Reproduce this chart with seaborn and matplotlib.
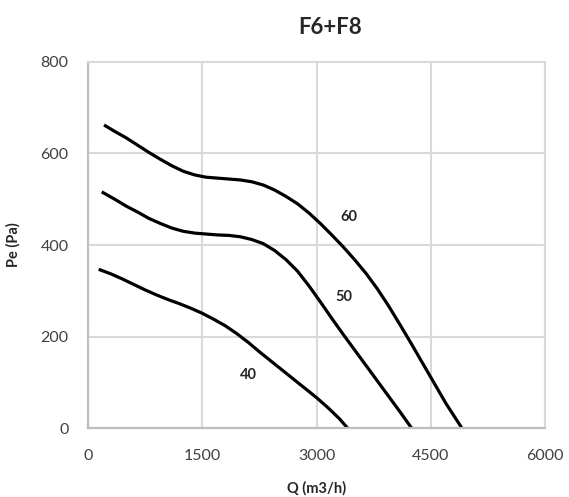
import matplotlib
matplotlib.use("Agg")
import matplotlib.pyplot as plt
import seaborn as sns
import pandas as pd

# fan curves (Q in m3/h, Pe in Pa)
q_60 = [210, 350, 500, 650, 800, 950, 1100, 1250, 1400, 1550, 1700, 1850, 2000, 2150, 2300, 2450,
        2600, 2750, 2900, 3050, 3200, 3350, 3500, 3650, 3800, 3950, 4100, 4250, 4400, 4550, 4700, 4910]
pe_60 = [662, 648, 634, 618, 602, 587, 573, 561, 553, 548, 546, 544, 542, 538, 531, 520,
         506, 490, 470, 447, 422, 396, 368, 338, 304, 266, 225, 183, 140, 97, 54, 0]

q_50 = [180, 350, 500, 650, 800, 950, 1100, 1250, 1400, 1550, 1700, 1850, 2000, 2150,
        2300, 2450, 2600, 2750, 2900, 3050, 3200, 3350, 3500, 3650, 3800, 3950, 4100, 4250]
pe_50 = [516, 500, 485, 472, 458, 447, 437, 430, 426, 424, 422, 421, 418, 412,
         403, 388, 368, 343, 311, 276, 240, 205, 171, 137, 103, 69, 35, 0]

q_40 = [140, 300, 450, 600, 750, 900, 1050, 1200, 1350, 1500, 1650, 1800, 1950, 2100,
        2250, 2400, 2550, 2700, 2850, 3000, 3150, 3300, 3410]
pe_40 = [347, 337, 326, 314, 302, 291, 281, 272, 262, 251, 238, 224, 207, 188,
         167, 147, 127, 107, 87, 67, 45, 21, 0]

curve_names = ["60", "50", "40"]
label_q = [3431, 3353, 2100]
label_pe = [462, 287, 116]

x_ticks = [0, 1500, 3000, 4500, 6000]
y_ticks = [0, 200, 400, 600, 800]

frames = []
for name, q, pe in zip(curve_names, [q_60, q_50, q_40], [pe_60, pe_50, pe_40]):
    frames.append(pd.DataFrame({"Q": q, "Pe": pe, "curve": name}))
df = pd.concat(frames, ignore_index=True)

sns.set_theme(style="white")
plt.rcParams["font.family"] = ["Lato", "DejaVu Sans"]

grid_col = "#d9d9d9"
axis_col = "#bfbfbf"
text_col = "#404040"

fig = plt.figure(figsize=(5.69, 4.97), dpi=100)
ax = fig.add_axes([0.1547, 0.1382, 0.8032, 0.7376])

sns.lineplot(data=df, x="Q", y="Pe", hue="curve", palette=["black"] * 3,
             estimator=None, sort=False, legend=False, linewidth=2.3, ax=ax)
for line in ax.get_lines():
    line.set_solid_capstyle("butt")
    line.set_solid_joinstyle("round")

for name, lq, lp in zip(curve_names, label_q, label_pe):
    ax.text(lq, lp, name, ha="center", va="center", fontsize=10.5,
            fontweight="bold", color="#262626")

ax.set_xlim(0, 6000)
ax.set_ylim(0, 800)
ax.set_xticks(x_ticks)
ax.set_yticks(y_ticks)
ax.grid(True, color=grid_col, linewidth=1.5)
ax.set_axisbelow(True)

for side in ["top", "right"]:
    ax.spines[side].set_color(grid_col)
    ax.spines[side].set_linewidth(1.5)
for side in ["left", "bottom"]:
    ax.spines[side].set_color(axis_col)
    ax.spines[side].set_linewidth(1.6)

ax.tick_params(axis="both", direction="inout", length=10, width=1.5,
               color=axis_col, labelsize=11.5, labelcolor=text_col)
ax.tick_params(axis="y", pad=9)
ax.tick_params(axis="x", pad=10)

ax.set_xlabel("Q (m3/h)", fontsize=10.5, fontweight="bold", color="#262626", labelpad=13)
ax.set_ylabel("Pe (Pa)", fontsize=10.5, fontweight="bold", color="#262626", labelpad=14)

fig.text(330 / 569, 1 - 27 / 497, "F6+F8", ha="center", va="center",
         fontsize=16, fontweight="bold", color="#262626")

fig.savefig("out.png", dpi=100)
